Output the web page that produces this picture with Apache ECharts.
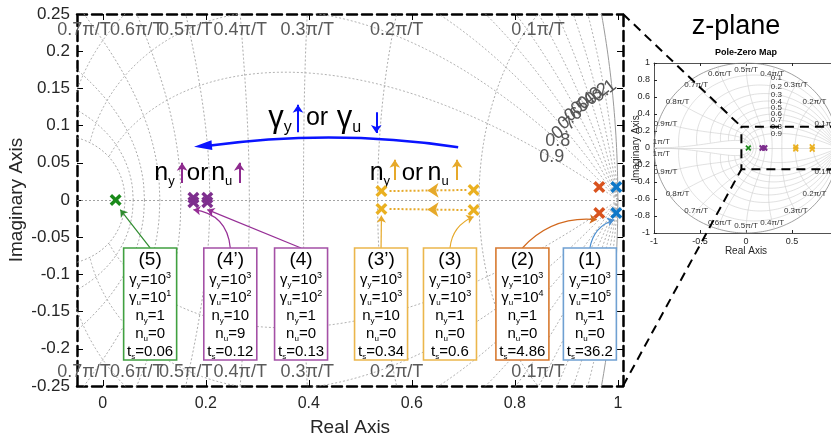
<!DOCTYPE html>
<html>
<head>
<meta charset="utf-8">
<script src="https://cdn.jsdelivr.net/npm/echarts@6/dist/echarts.min.js"></script>
<style>
  html, body { margin: 0; padding: 0; background: #fff; }
  #c { width: 831px; height: 437px; }
</style>
</head>
<body>
<div id="c"></div>
<script>
// ---- z-plane grid parameters ----
const dampingRatios = [0.1, 0.2, 0.3, 0.4, 0.5, 0.6, 0.7, 0.8, 0.9];
const natFreqs = [0.1, 0.2, 0.3, 0.4, 0.5, 0.6, 0.7, 0.8, 0.9, 1.0]; // × π/T
const xTickValues = [0, 0.2, 0.4, 0.6, 0.8, 1];

// ---- zoomed view limits ----
const X_MIN = -0.05, X_MAX = 1.01, Y_MIN = -0.25, Y_MAX = 0.25;

// ---- closed-loop poles of each case ----
const caseNames = ['(1)', '(2)', '(3)', '(3’)', '(4)', '(4’)', '(5)'];
const poles1 = [[0.997, 0.0175], [0.997, -0.0175]];
const poles2 = [[0.964, 0.0175], [0.964, -0.0175]];
const poles3 = [[0.720, 0.0135], [0.720, -0.0135]];
const poles3b = [[0.541, 0.012], [0.541, -0.012]];
const poles4 = [[0.203, 0.003], [0.203, -0.003]];
const poles4b = [[0.176, 0.003], [0.176, -0.003]];
const poles5 = [[0.025, 0]];
const casePoles = [poles1, poles2, poles3, poles3b, poles4, poles4b, poles5];

// ---- tuning parameters and settling times ----
const gammaYExp = [3, 3, 3, 3, 3, 3, 3];
const gammaUExp = [5, 4, 3, 3, 2, 2, 1];
const nY = [1, 1, 1, 10, 1, 10, 1];
const nU = [0, 0, 0, 0, 0, 9, 0];
const settlingTimes = ['36.2', '4.86', '0.6', '0.34', '0.13', '0.12', '0.06'];

// ---- styling / layout ----
const FONT = '"Liberation Sans", Arial, sans-serif';
const markColors = ['#0f78c8', '#d9531e', '#eab020', '#eab020', '#7e2f8e', '#7e2f8e', '#1a8a1a'];
const boxColors = ['#6fa0d2', '#d77a30', '#ebb64c', '#ebb64c', '#a450a6', '#a450a6', '#40a040'];
const leaderColors = ['#4a8ed0', '#d2691e', '#e6a92a', '#e6a92a', '#962f96', '#962f96', '#2e8b2e'];
const boxCenterX = [0.9457, 0.8147, 0.6741, 0.5403, 0.385, 0.2476, 0.092];
const BOX_TOP = -0.0645, BOX_BOTTOM = -0.215, BOX_W = 53;
const leaderCurve = [0.3, 0.25, 0.3, 0, 0, -0.4, 0];
const leaderEndShift = [[-0.004, -0.009], [-0.005, -0.009], [0, -0.009], [0, -0.009], [0, -0.010], [0, -0.010], [0.009, -0.013]];
const CROSS = 'path://M2,0L5,3L8,0L10,2L7,5L10,8L8,10L5,7L2,10L0,8L3,5L0,2Z';

// trend annotations: word positions and the small up/down arrows beside them
const BLUE = '#0a14ff', PURPLE = '#8e2a8e', GOLD = '#e6a92a';
const trendWords = [
  { at: [0.344, 0.110], text: '{g|γ}{s|y}' },
  { at: [0.416, 0.110], text: '{t|or}' },
  { at: [0.478, 0.110], text: '{g|γ}{s|u}' },
  { at: [0.120, 0.036], text: '{n|n}{s2|y}' },
  { at: [0.184, 0.036], text: '{t2|or}' },
  { at: [0.231, 0.036], text: '{n|n}{s2|u}' },
  { at: [0.538, 0.036], text: '{n|n}{s2|y}' },
  { at: [0.601, 0.036], text: '{t2|or}' },
  { at: [0.651, 0.036], text: '{n|n}{s2|u}' }
];
const trendArrows = [
  { from: [0.379, 0.091], to: [0.379, 0.128], color: BLUE },
  { from: [0.531, 0.118], to: [0.531, 0.090], color: BLUE },
  { from: [0.154, 0.023], to: [0.154, 0.050], color: PURPLE },
  { from: [0.265, 0.023], to: [0.265, 0.050], color: PURPLE },
  { from: [0.567, 0.027], to: [0.567, 0.054], color: GOLD },
  { from: [0.688, 0.027], to: [0.688, 0.054], color: GOLD }
];

const PI = Math.PI;
// point of the s-plane line with damping ζ and natural frequency wT, mapped by z = e^{sT}
function zPoint(zeta, wT) {
  const r = Math.exp(-zeta * wT), a = wT * Math.sqrt(1 - zeta * zeta);
  return [r * Math.cos(a), r * Math.sin(a)];
}
function zetaCurve(zeta, sgn) {
  const pts = [];
  for (let i = 0; i <= 400; i++) { const p = zPoint(zeta, PI * i / 400); pts.push([p[0], sgn * p[1]]); }
  return pts;
}
function wnCurve(wT, sgn) {
  const pts = [];
  for (let i = 0; i <= 200; i++) { const p = zPoint(i / 200, wT); pts.push([p[0], sgn * p[1]]); }
  return pts;
}

function gridCurves(xa, ya, zetaStyle, wnStyle, circleStyle) {
  const base = { type: 'line', xAxisIndex: xa, yAxisIndex: ya, symbol: 'none', showSymbol: false,
    silent: true, animation: false, z: 1 };
  const out = [];
  [1, -1].forEach(s => {
    out.push(Object.assign({}, base, { data: zetaCurve(0, s), lineStyle: circleStyle }));
    dampingRatios.forEach(z => out.push(Object.assign({}, base, { data: zetaCurve(z, s), lineStyle: zetaStyle })));
    natFreqs.forEach(w => out.push(Object.assign({}, base, { data: wnCurve(w * PI, s), lineStyle: wnStyle })));
  });
  return out;
}

function textSeries(xa, ya, data, labelOpts) {
  return {
    type: 'scatter', xAxisIndex: xa, yAxisIndex: ya, silent: true, animation: false, clip: false, z: 3,
    symbolSize: 1, itemStyle: { color: 'rgba(0,0,0,0)' },
    label: Object.assign({ show: true, position: 'inside', formatter: '{b}', fontFamily: FONT, color: '#000', opacity: 1 }, labelOpts),
    data: data
  };
}

// ---- grid labels in the zoomed view ----
const wnLabelsMain = [];
natFreqs.forEach(w => {
  const W = w * PI;
  for (let z = 1; z >= 0; z -= 0.0005) {
    const p = zPoint(z, W);
    if (p[1] >= Y_MAX) {
      if (p[0] > X_MIN) {
        const txt = (w === 1 ? '1' : w.toFixed(1)) + 'π/T';
        wnLabelsMain.push({ value: [p[0], Y_MAX], name: txt, label: { offset: [0, 16] } });
        wnLabelsMain.push({ value: [p[0], Y_MIN], name: txt, label: { offset: [0, -14] } });
      }
      break;
    }
  }
});
const zetaLabelsMain = dampingRatios.map(z => ({
  value: zPoint(z, 0.15), name: String(z), label: { rotate: z >= 0.8 ? 0 : 38 }
}));

// ---- grid labels in the full-plane view ----
const wnLabelsFull = [];
natFreqs.forEach(w => {
  const W = w * PI, txt = (w === 1 ? '1' : w.toFixed(1)) + 'π/T';
  const x = 0.92 * Math.cos(W), y = 0.92 * Math.sin(W);
  wnLabelsFull.push({ value: [x, y], name: txt, label: { offset: [0, w === 1 ? -6 : 0] } });
  wnLabelsFull.push({ value: [x, -y], name: txt, label: { offset: [0, w === 1 ? 6 : 0] } });
});
const zetaLabelsFull = dampingRatios.map(z => {
  let lo = 0, hi = PI;
  for (let k = 0; k < 50; k++) { const m = (lo + hi) / 2; if (zPoint(z, m)[0] > 0.33) lo = m; else hi = m; }
  return { value: zPoint(z, lo), name: String(z) };
});

// ---- poles ----
function poleSeries(xa, ya, size) {
  return casePoles.map((p, i) => ({
    type: 'scatter', xAxisIndex: xa, yAxisIndex: ya, symbol: CROSS, symbolSize: size,
    itemStyle: { color: markColors[i], opacity: 1 }, data: p, z: 6, silent: true, animation: false, clip: false
  }));
}

// ---- leader arrows from the parameter boxes to the poles ----
const leaderData = casePoles.map((p, i) => {
  const low = p.reduce((a, b) => (b[1] < a[1] ? b : a));
  return {
    coords: [[boxCenterX[i], BOX_TOP], [low[0] + leaderEndShift[i][0], low[1] + leaderEndShift[i][1]]],
    lineStyle: { color: leaderColors[i], curveness: leaderCurve[i] }
  };
});

// dotted arrows for the effect of n_y
const shiftArrows = [];
poles3.forEach((a, j) => {
  const b = poles3b[j];
  const mid = [(a[0] + b[0]) / 2, (a[1] + b[1]) / 2];
  shiftArrows.push({ coords: [[a[0] - 0.014, a[1]], mid], symbol: ['none', 'arrow'] });
  shiftArrows.push({ coords: [mid, [b[0] + 0.014, b[1]]], symbol: ['none', 'none'] });
});

// parameter boxes
function boxText(i) {
  return '{h|' + caseNames[i] + '}\n' +
    '{m|γ}{sb|y}{m|=10}{sp|' + gammaYExp[i] + '}\n' +
    '{m|γ}{sb|u}{m|=10}{sp|' + gammaUExp[i] + '}\n' +
    '{m|n}{sb|y}{m|=' + nY[i] + '}\n' +
    '{m|n}{sb|u}{m|=' + nU[i] + '}\n' +
    '{m|t}{sb|s}{m|=' + settlingTimes[i] + '}';
}
const boxRich = {
  h: { fontSize: 19, lineHeight: 22, fontFamily: FONT, fill: '#000' },
  m: { fontSize: 15, lineHeight: 18, fontFamily: FONT, fill: '#000' },
  sb: { fontSize: 8, lineHeight: 9, verticalAlign: 'bottom', fontFamily: FONT, fill: '#000' },
  sp: { fontSize: 9, lineHeight: 10, verticalAlign: 'top', fontFamily: FONT, fill: '#000' }
};
const trendRich = {
  g: { fontSize: 31, lineHeight: 34, color: '#000', fontFamily: FONT },
  s: { fontSize: 16, lineHeight: 18, verticalAlign: 'bottom', color: '#000', fontFamily: FONT },
  t: { fontSize: 25, lineHeight: 34, color: '#000', fontFamily: FONT },
  n: { fontSize: 25, lineHeight: 30, color: '#000', fontFamily: FONT },
  s2: { fontSize: 13, lineHeight: 15, verticalAlign: 'bottom', color: '#000', fontFamily: FONT },
  t2: { fontSize: 24, lineHeight: 30, color: '#000', fontFamily: FONT }
};

const series = [].concat(
  gridCurves(0, 0,
    { color: '#a8a8a8', width: 0.9, type: [2, 2] },
    { color: '#a0a0a0', width: 0.9, type: [2, 2] },
    { color: '#9a9a9a', width: 1, type: 'solid' }),
  gridCurves(2, 2,
    { color: '#cccccc', width: 0.6 },
    { color: '#cccccc', width: 0.6 },
    { color: '#888888', width: 0.8 }),
  [
    // real axes
    { type: 'line', xAxisIndex: 0, yAxisIndex: 0, data: [], silent: true, animation: false,
      markLine: { silent: true, symbol: 'none', label: { show: false }, animation: false,
        lineStyle: { color: '#999', type: [2, 2], width: 0.9 }, data: [{ yAxis: 0 }] } },
    { type: 'line', xAxisIndex: 2, yAxisIndex: 2, data: [], silent: true, animation: false,
      markLine: { silent: true, symbol: 'none', label: { show: false }, animation: false,
        lineStyle: { color: '#cccccc', type: 'solid', width: 0.6 }, data: [{ yAxis: 0 }] } },
    textSeries(0, 0, wnLabelsMain, { fontSize: 18, color: '#5a5a5a' }),
    textSeries(0, 0, zetaLabelsMain, { fontSize: 18, color: '#555' }),
    textSeries(2, 2, wnLabelsFull, { fontSize: 8, color: '#333' }),
    textSeries(2, 2, zetaLabelsFull, { fontSize: 8, color: '#333' }),
    // zoom rectangle in the full-plane view
    { type: 'line', xAxisIndex: 2, yAxisIndex: 2, symbol: 'none', silent: true, animation: false, clip: false, z: 7,
      lineStyle: { color: '#000', width: 2, type: [9, 6] },
      data: [[X_MAX, Y_MAX], [X_MIN, Y_MAX], [X_MIN, Y_MIN], [X_MAX, Y_MIN]] },
    // annotation: gamma trend
    { type: 'lines', coordinateSystem: 'cartesian2d', xAxisIndex: 0, yAxisIndex: 0, silent: true, animation: false, z: 5,
      symbol: ['none', 'none'], lineStyle: { color: BLUE, width: 2.5, opacity: 1, curveness: -0.072 },
      data: [{ coords: [[0.69, 0.071], [0.205, 0.0728]] }] },
    { type: 'scatter', xAxisIndex: 0, yAxisIndex: 0, silent: true, animation: false, z: 5,
      symbol: 'path://M0,5L17,0L17,10Z', symbolSize: [18, 10], symbolRotate: 5,
      itemStyle: { color: BLUE, opacity: 1 }, data: [[0.1945, 0.0727]] },
    textSeries(0, 0, trendWords.map(w => ({ value: w.at, name: w.text })), { rich: trendRich }),
    { type: 'lines', coordinateSystem: 'cartesian2d', xAxisIndex: 0, yAxisIndex: 0, silent: true, animation: false, z: 5,
      symbol: ['none', 'arrow'], symbolSize: 8, lineStyle: { width: 2, opacity: 1, curveness: 0 },
      data: trendArrows.map(a => ({ coords: [a.from, a.to], lineStyle: { color: a.color } })) },
    // dotted shift arrows
    { type: 'lines', coordinateSystem: 'cartesian2d', xAxisIndex: 0, yAxisIndex: 0, silent: true, animation: false, z: 5,
      symbolSize: 11, lineStyle: { color: GOLD, width: 2, type: [2, 2], opacity: 1, curveness: 0 }, data: shiftArrows },
    // leaders
    { type: 'lines', coordinateSystem: 'cartesian2d', xAxisIndex: 0, yAxisIndex: 0, silent: true, animation: false, z: 5,
      symbol: ['none', 'arrow'], symbolSize: 7, lineStyle: { width: 1.2, opacity: 1 }, data: leaderData },
    // parameter boxes
    { type: 'custom', xAxisIndex: 0, yAxisIndex: 0, silent: true, animation: false, z: 8,
      data: boxCenterX.map(x => [x, BOX_TOP]),
      renderItem: function (params, api) {
        const i = params.dataIndex;
        const top = api.coord([boxCenterX[i], BOX_TOP]);
        const bot = api.coord([boxCenterX[i], BOX_BOTTOM]);
        return {
          type: 'group',
          children: [
            { type: 'rect', shape: { x: top[0] - BOX_W / 2, y: top[1], width: BOX_W, height: bot[1] - top[1] },
              style: { fill: '#fff', stroke: boxColors[i], lineWidth: 1.6 } },
            { type: 'text', x: top[0], y: top[1] + 1,
              style: { text: boxText(i), rich: boxRich, align: 'center', verticalAlign: 'top',
                font: '15px ' + FONT, fill: '#000' } }
          ]
        };
      } }
  ],
  poleSeries(0, 0, 12),
  poleSeries(2, 2, 6)
);

const dashedAxis = { show: true, onZero: false, lineStyle: { color: '#000', width: 2.5, type: [10, 5] } };
const thinAxis = { show: true, onZero: false, lineStyle: { color: '#262626', width: 0.8 } };

const option = {
  animation: false,
  backgroundColor: '#fff',
  textStyle: { fontFamily: FONT },
  grid: [
    { left: 77, top: 14, width: 546, height: 372, containLabel: false, outerBoundsMode: 'none' },
    { left: 654, top: 63, width: 184, height: 170, containLabel: false, outerBoundsMode: 'none' }
  ],
  xAxis: [
    { gridIndex: 0, type: 'value', min: X_MIN, max: X_MAX, position: 'bottom', axisLine: dashedAxis,
      axisTick: { show: true, inside: true, length: 6, customValues: xTickValues, lineStyle: { color: '#000' } },
      axisLabel: { customValues: xTickValues, formatter: v => String(+v.toFixed(2)), color: '#262626', fontSize: 16, margin: 10 },
      splitLine: { show: false },
      name: 'Real Axis', nameLocation: 'middle', nameGap: 32, nameMoveOverlap: false,
      nameTextStyle: { fontSize: 19, color: '#262626' } },
    { gridIndex: 0, type: 'value', min: X_MIN, max: X_MAX, position: 'top', axisLine: dashedAxis,
      axisTick: { show: true, inside: true, length: 6, customValues: xTickValues, lineStyle: { color: '#000' } },
      axisLabel: { show: false }, splitLine: { show: false } },
    { gridIndex: 1, type: 'value', min: -1, max: 1, interval: 0.5, position: 'bottom', axisLine: thinAxis,
      axisTick: { show: true, inside: true, length: 3, lineStyle: { color: '#262626' } },
      axisLabel: { formatter: v => String(+v.toFixed(1)), color: '#262626', fontSize: 9, margin: 4 },
      splitLine: { show: false },
      name: 'Real Axis', nameLocation: 'middle', nameGap: 13, nameMoveOverlap: false,
      nameTextStyle: { fontSize: 10, color: '#262626' } },
    { gridIndex: 1, type: 'value', min: -1, max: 1, interval: 0.5, position: 'top', axisLine: thinAxis,
      axisTick: { show: true, inside: true, length: 3, lineStyle: { color: '#262626' } },
      axisLabel: { show: false }, splitLine: { show: false } }
  ],
  yAxis: [
    { gridIndex: 0, type: 'value', min: Y_MIN, max: Y_MAX, interval: 0.05, position: 'left', axisLine: dashedAxis,
      axisTick: { show: true, inside: true, length: 6, lineStyle: { color: '#000' } },
      axisLabel: { formatter: v => String(+v.toFixed(2)), color: '#262626', fontSize: 17, margin: 7 },
      splitLine: { show: false },
      name: 'Imaginary Axis', nameLocation: 'middle', nameGap: 51, nameMoveOverlap: false,
      nameTextStyle: { fontSize: 19, color: '#262626' } },
    { gridIndex: 0, type: 'value', min: Y_MIN, max: Y_MAX, interval: 0.05, position: 'right', axisLine: dashedAxis,
      axisTick: { show: true, inside: true, length: 6, lineStyle: { color: '#000' } },
      axisLabel: { show: false }, splitLine: { show: false } },
    { gridIndex: 1, type: 'value', min: -1, max: 1, interval: 0.2, position: 'left', axisLine: thinAxis,
      axisTick: { show: true, inside: true, length: 3, lineStyle: { color: '#262626' } },
      axisLabel: { formatter: v => String(+v.toFixed(1)), color: '#262626', fontSize: 9, margin: 4 },
      splitLine: { show: false },
      name: 'Imaginary Axis', nameLocation: 'middle', nameGap: 13, nameMoveOverlap: false,
      nameTextStyle: { fontSize: 10, color: '#262626' } },
    { gridIndex: 1, type: 'value', min: -1, max: 1, interval: 0.2, position: 'right', axisLine: thinAxis,
      axisTick: { show: true, inside: true, length: 3, lineStyle: { color: '#262626' } },
      axisLabel: { show: false }, splitLine: { show: false } }
  ],
  series: series
};

const chart = echarts.init(document.getElementById('c'), null, { renderer: 'canvas' });
chart.setOption(option);

// titles of the full-plane view and the dashed zoom connectors
const cTop = chart.convertToPixel({ gridIndex: 0 }, [X_MAX, Y_MAX]);
const cBot = chart.convertToPixel({ gridIndex: 0 }, [X_MAX, Y_MIN]);
const rTop = chart.convertToPixel({ gridIndex: 1 }, [X_MIN, Y_MAX]);
const rBot = chart.convertToPixel({ gridIndex: 1 }, [X_MIN, Y_MIN]);
const inset = chart.convertToPixel({ gridIndex: 1 }, [0, 1]);
chart.setOption({
  graphic: [
    { type: 'text', x: inset[0] - 10, y: 27, z: 10,
      style: { text: 'z-plane', font: '27px ' + FONT, fill: '#000', align: 'center', verticalAlign: 'middle' } },
    { type: 'text', x: inset[0], y: 53, z: 10,
      style: { text: 'Pole-Zero Map', font: 'bold 9px ' + FONT, fill: '#000', align: 'center', verticalAlign: 'middle' } },
    { type: 'line', z: 10, shape: { x1: cTop[0], y1: cTop[1], x2: rTop[0], y2: rTop[1] },
      style: { stroke: '#000', lineWidth: 2, lineDash: [9, 6] } },
    { type: 'line', z: 10, shape: { x1: cBot[0], y1: cBot[1], x2: rBot[0], y2: rBot[1] },
      style: { stroke: '#000', lineWidth: 2, lineDash: [9, 6] } }
  ]
});
</script>
</body>
</html>
